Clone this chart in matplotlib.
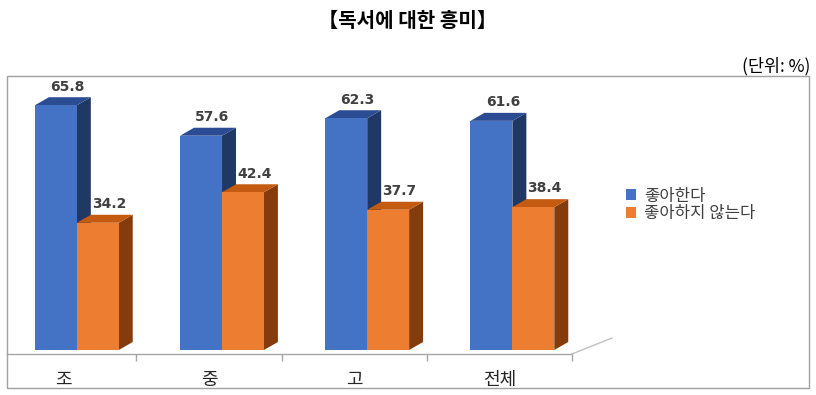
import matplotlib
matplotlib.use("Agg")
import matplotlib.pyplot as plt
from matplotlib.patches import Polygon, Rectangle
from matplotlib.lines import Line2D

plt.rcParams['font.family'] = ['Noto Sans CJK KR', 'DejaVu Sans']

categories = ['조', '중', '고', '전체']
like = [65.8, 57.6, 62.3, 61.6]
dislike = [34.2, 42.4, 37.7, 38.4]
series_names = ['좋아한다', '좋아하지 않는다']
title = '【독서에 대한 흥미】'
unit_text = '(단위: %)'

W, H = 816, 395
fig = plt.figure(figsize=(W / 100, H / 100), dpi=100)

# axes: pixel x 7..572, y 354 (baseline) .. 76
ax = fig.add_axes([7 / W, (H - 354) / H, (572 - 7) / W, (354 - 76) / H])
px_per_unit_y = 3.72
px_per_cat = 145.5
ax.set_xlim((7 - 64) / px_per_cat, (572 - 64) / px_per_cat)
ax.set_ylim(-4 / px_per_unit_y, (350 - 76) / px_per_unit_y)

bw = 42 / px_per_cat
off_blue = -29 / px_per_cat
off_orange = 13 / px_per_cat
ddx = 14 / px_per_cat
ddy = 8 / px_per_unit_y

front_cols = ['#4472C4', '#ED7D31']
side_cols = ['#1F3864', '#843C0C']
top_cols = ['#2B4C93', '#C55A11']

handles = []
for s, (vals, off) in enumerate([(like, off_blue), (dislike, off_orange)]):
    xs = [i + off for i in range(len(categories))]
    b = ax.bar(xs, vals, width=bw, align='edge', color=front_cols[s],
               edgecolor='none', zorder=3 + s, clip_on=False)
    handles.append(b)
    for x0, v in zip(xs, vals):
        x1 = x0 + bw
        side = Polygon([(x1, 0), (x1 + ddx, ddy), (x1 + ddx, v + ddy), (x1, v)],
                       closed=True, facecolor=side_cols[s], edgecolor='none',
                       zorder=2 + s, clip_on=False)
        top = Polygon([(x0, v), (x0 + ddx, v + ddy), (x1 + ddx, v + ddy), (x1, v)],
                      closed=True, facecolor=top_cols[s], edgecolor='none',
                      zorder=2 + s, clip_on=False)
        ax.add_patch(side)
        ax.add_patch(top)
        ax.text(x0 + bw / 2 + ddx / 2 + 0.03, v + ddy + 1.0, f'{v:.1f}',
                ha='center', va='bottom', fontsize=10, fontweight='bold',
                color='#404040', family='DejaVu Sans', zorder=10)

for sp in ['left', 'right', 'top']:
    ax.spines[sp].set_visible(False)
ax.spines['bottom'].set_color('#a6a6a6')
ax.spines['bottom'].set_linewidth(1.0)
ax.set_yticks([])
ax.set_xticks([0.5, 1.5, 2.5, 3.5])
ax.set_xticklabels([])
ax.tick_params(axis='x', which='major', length=5, color='#a6a6a6', width=1)
ax.set_xticks(range(len(categories)), minor=True)
ax.set_xticklabels(categories, minor=True, fontsize=13, color='#262626')
ax.tick_params(axis='x', which='minor', length=0, pad=12)
ax.patch.set_visible(False)

# 3D floor diagonal
fig.add_artist(Line2D([572 / W, 612 / W], [(H - 354) / H, (H - 338) / H],
                      color='#bfbfbf', lw=1.0))

# outer frame
fig.add_artist(Rectangle((7 / W, (H - 388) / H), (809 - 7) / W, (388 - 76) / H,
                         fill=False, edgecolor='#a0a0a0', lw=1.0))

fig.text(408 / W, (H - 20) / H, title, ha='center', va='center',
         fontsize=14.5, fontweight='bold', color='black')
fig.text(810 / W, (H - 66) / H, unit_text, ha='right', va='center',
         fontsize=12.5, color='black')

leg = fig.legend([h[0] for h in handles], series_names,
                 loc='center left', bbox_to_anchor=(619 / W, (H - 205) / H),
                 frameon=False, fontsize=12, handlelength=0.6, handleheight=0.6,
                 handletextpad=0.5, labelspacing=0.05, borderaxespad=0)
for t in leg.get_texts():
    t.set_color('#404040')

fig.savefig('out.png', dpi=100)
